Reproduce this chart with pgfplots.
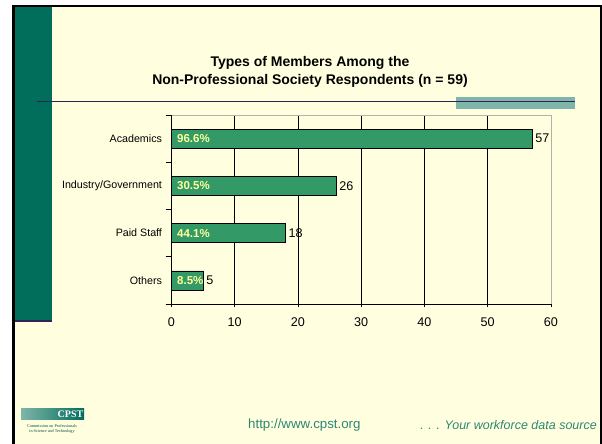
\documentclass[border=0pt]{standalone}
\usepackage{fontspec}
\setmainfont{Liberation Sans}
\newfontfamily\serifont{Liberation Serif}
\usepackage{pgfplots}
\usepackage{pgfplotstable}
\pgfplotsset{compat=1.18}
\definecolor{slidebg}{RGB}{255,255,224}
\definecolor{band}{RGB}{0,110,90}
\definecolor{barfill}{RGB}{51,153,102}
\definecolor{pctcol}{RGB}{255,255,153}
\definecolor{rulecol}{RGB}{51,34,85}
\definecolor{tealrect}{RGB}{127,181,170}
\definecolor{footer}{RGB}{45,135,115}
\definecolor{plotborder}{RGB}{178,178,170}

\pgfplotstableread{
c v p
3 57 96.6\%
2 26 30.5\%
1 18 44.1\%
0 5 8.5\%
}\data

\begin{document}
\begin{tikzpicture}
\begin{scope}[x=1pt,y=1pt]
\useasboundingbox (0,0) rectangle (602,444);
\fill[white] (0,0) rectangle (602,444);
\fill[slidebg] (15,0) rectangle (600,437);
\fill[black] (12,0) rectangle (15,439);
\fill[black] (12,437) rectangle (602,439);
\fill[black] (600,0) rectangle (602,439);
\fill[band] (15,124) rectangle (52,437);
\fill[rulecol] (15,122) rectangle (52,124);
\fill[tealrect] (456,335) rectangle (575,347);
\draw[rulecol, line width=1.6pt] (36.5,342.5) -- (575,342.5);
\node[align=center, font=\bfseries\fontsize{14}{18}\selectfont, inner sep=0] at (310,372) {Types of Members Among the\\Non-Professional Society Respondents (n = 59)};
\shade[left color=tealrect, right color=band] (21,24) rectangle (84,35);
\node[anchor=east, font=\serifont\bfseries\fontsize{10}{11}\selectfont, text=white, inner sep=0] at (83.5,29.5) {CPST};
\node[font=\serifont\fontsize{4.2}{5.2}\selectfont, text=band!70!black, align=center, inner sep=0] at (52,15) {Commission on Professionals\\in Science and Technology};
\node[anchor=west, font=\fontsize{13.3}{15}\selectfont, text=footer, inner sep=0] at (248,19) {http://www.cpst.org};
\node[anchor=east, font=\itshape\fontsize{12.5}{15}\selectfont, text=footer, inner sep=0] at (597,19) {. . . Your workforce data source};
\end{scope}

\begin{axis}[at={(171.5pt,140pt)}, anchor=south west, scale only axis,
  width=379.5pt, height=189pt,
  xmin=0, xmax=60, ymin=-0.5, ymax=3.5,
  xtick={0,10,...,60},
  xmajorgrids, major grid style={black, line width=0.6pt},
  ytick={-0.5,0.5,1.5,2.5,3.5}, yticklabels={},
  extra y ticks={0,1,2,3},
  extra y tick labels={Others,Paid Staff,Industry/Government,Academics},
  extra y tick style={tick style={draw=none}, grid=none},
  major tick length=6pt, xtick align=center, ytick align=outside,
  axis lines*=left,
  axis line style={black, line width=0.8pt},
  tick style={black, line width=0.8pt},
  /pgf/number format/assume math mode=true,
  xticklabel style={font=\fontsize{12.6}{15}\selectfont, yshift=-7pt},
  yticklabel style={font=\fontsize{10.7}{13}\selectfont},
  clip=false,
]
\addplot[xbar, bar width=19pt, fill=barfill, draw=black, line width=0.6pt,
  point meta=x, nodes near coords,
  every node near coord/.append style={font=\fontsize{12.6}{14}\selectfont, text=black, inner sep=0pt, xshift=3pt}]
  table[x=v, y=c] {\data};
\addplot[draw=none, mark=none, point meta=explicit symbolic, nodes near coords,
  every node near coord/.append style={anchor=west, font=\bfseries\fontsize{11.5}{13}\selectfont, text=pctcol, inner sep=0pt, xshift=5.5pt}]
  table[x expr=0, y=c, meta=p] {\data};
\draw[plotborder, line width=0.8pt] (axis cs:0,3.5) -- (axis cs:60,3.5) -- (axis cs:60,-0.5);
\end{axis}
\end{tikzpicture}
\end{document}
